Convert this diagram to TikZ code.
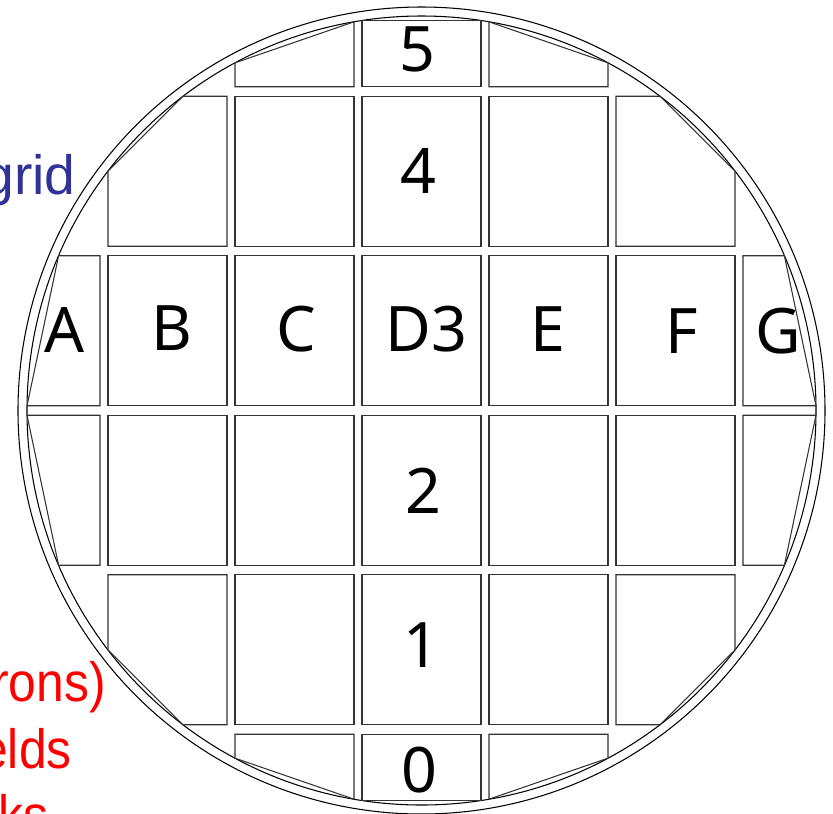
\documentclass[tikz,border=0pt]{standalone}
\usepackage{fontspec}
\usepackage{xcolor}
\usepackage{graphicx}
\setmainfont{Liberation Sans}
\newfontfamily\diefont{Noto Sans}
\definecolor{gridblue}{RGB}{48,50,150}
\def\Rin{39.45}
\newcommand{\narrowtxt}[1]{\scalebox{0.9}[1]{#1}}

\begin{document}
\begin{tikzpicture}[x=0.2cm,y=0.2cm,
		die/.style={draw=black!80, line width=0.6pt},
		dielbl/.style={font=\diefont\fontsize{35.7}{36}\selectfont, inner sep=0pt},
		note/.style={font=\fontsize{31.5}{38}\selectfont, inner sep=0pt, anchor=base east}]
		\useasboundingbox (-42.15,-40.25) rectangle (41.15,41.05);
		\coordinate (O) at (0,0);
		\draw[line width=0.6pt] (O) circle (40.35);
		\draw[line width=0.6pt] (O) circle (\Rin);
		\foreach \sx in {1,-1}{
			\foreach \sy in {1,-1}{
				\begin{scope}[xscale=\sx, yscale=\sy]
					\foreach \cx in {-25.4,-12.7,0}
						\draw[die] (\cx-5.95,0.475) rectangle (\cx+5.95,15.475);
					\foreach \cx in {-12.7,0}
						\draw[die] (\cx-5.95,16.425) rectangle (\cx+5.95,31.425);
					\draw[die] (-32.15,0.475) -- ({-sqrt(\Rin*\Rin-0.475*0.475)},0.475) -- ({-sqrt(\Rin*\Rin-15.475*15.475)},15.475) -- (-32.15,15.475) -- cycle;
					\draw[die] (-19.45,16.425) -- (-19.45,31.425) -- ({-sqrt(\Rin*\Rin-31.425*31.425)},31.425) -- (-31.35,{sqrt(\Rin*\Rin-31.35*31.35)}) -- (-31.35,16.425) -- cycle;
					\foreach \cx in {-12.7,0}
						\draw[die] (\cx-5.95,32.375) -- (\cx-5.95,{sqrt(\Rin*\Rin-(\cx-5.95)^2)}) -- (\cx+5.95,{sqrt(\Rin*\Rin-(\cx+5.95)^2)}) -- (\cx+5.95,32.375) -- cycle;
				\end{scope}
			}
		}
		\node[dielbl] (lblA) at (-35.65,8.05) {A};
		\node[dielbl] (lblB) at (-24.95,8.2) {B};
		\node[dielbl] (lblC) at (-12.5,8.1) {C};
		\node[dielbl] (lblD) at (0.5,8.15) {D3};
		\node[dielbl] (lblE) at (12.65,8.1) {E};
		\node[dielbl] (lblF) at (26.05,7.95) {F};
		\node[dielbl] (lblG) at (35.65,7.95) {G};
		\node[dielbl] (lbl5) at (-0.4,36.1) {5};
		\node[dielbl] (lbl4) at (-0.3,23.95) {4};
		\node[dielbl] (lbl2) at (0.2,-8.05) {2};
		\node[dielbl] (lbl1) at (0,-23.45) {1};
		\node[dielbl] (lbl0) at (-0.2,-35.95) {0};
		\node[note, text=gridblue] (grid) at (-34.55,21.62) {grid};
		\node[note, text=red] (rons) at (-31.55,-29.12) {\narrowtxt{rons)}};
		\node[note, text=red] (elds) at (-34.95,-35.78) {\narrowtxt{elds}};
		\node[note, text=red] (ks) at (-37.25,-42.44) {\narrowtxt{ks}};
	\end{tikzpicture}
\end{document}
